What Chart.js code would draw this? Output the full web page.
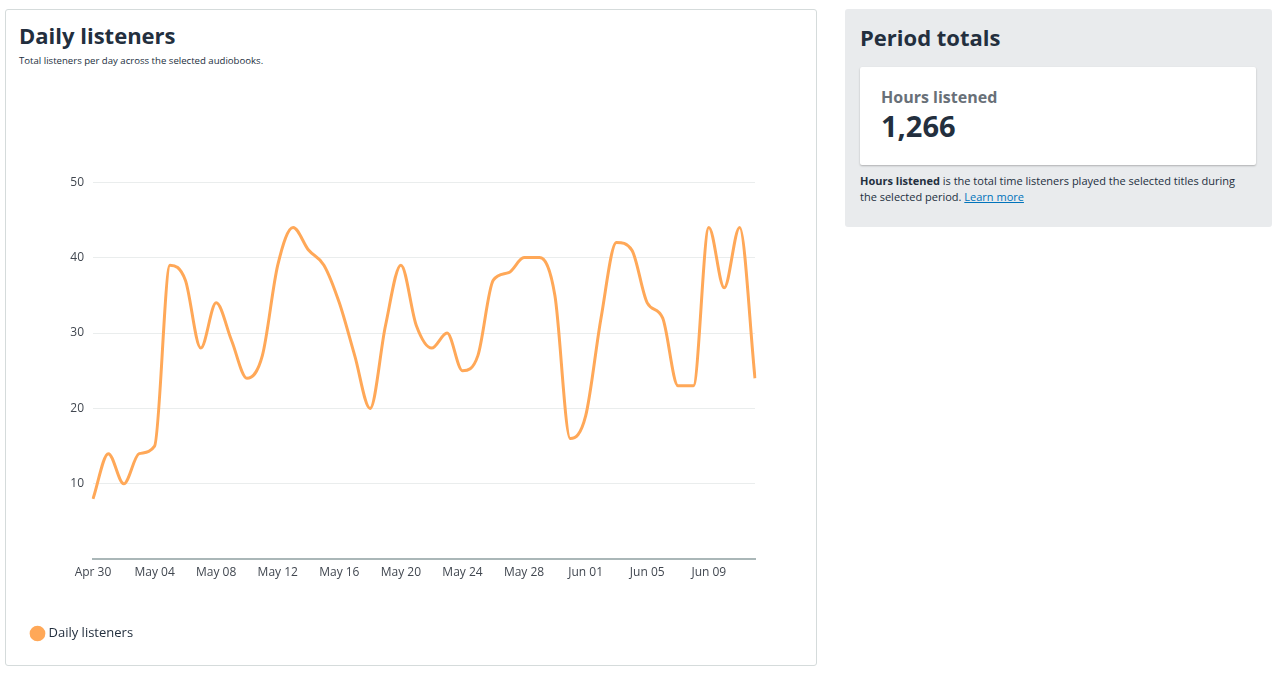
<!DOCTYPE html>
<html>
<head>
<meta charset="utf-8">
<script src="https://cdn.jsdelivr.net/npm/chart.js@4"></script>
<style>
  body { margin: 0; width: 1280px; height: 676px; background: #fff; font-family: "Open Sans", sans-serif; color: #232f3e; position: relative; overflow: hidden; }
  .card { position: absolute; left: 5px; top: 9px; width: 812px; height: 657px; border: 1px solid #d5dbdb; border-radius: 3px; box-sizing: border-box; }
  .card h2 { position: absolute; left: 13px; top: 10px; margin: 0; font-size: 22px; font-weight: 700; color: #232f3e; }
  .card .sub { position: absolute; left: 13px; top: 44px; font-size: 9.6px; color: #232f3e; }
  .chart-box { position: absolute; left: 17px; top: 156px; width: 740px; height: 484px; }
  .side { position: absolute; left: 845px; top: 9px; width: 427px; height: 218px; background: #e9ebed; border-radius: 3px; }
  .side h2 { position: absolute; left: 15px; top: 13px; margin: 0; font-size: 22px; font-weight: 700; color: #232f3e; }
  .stat { position: absolute; left: 15px; top: 58px; width: 396px; height: 98px; background: #fff; border-radius: 2px; box-shadow: 0 1px 2px rgba(0,0,0,0.25); }
  .stat .lbl { position: absolute; left: 21px; top: 19px; font-size: 16px; font-weight: 700; color: #687078; }
  .stat .val { position: absolute; left: 21px; top: 39px; font-size: 29px; font-weight: 700; color: #232f3e; }
  .side p { position: absolute; left: 15px; top: 164px; width: 390px; margin: 0; font-size: 11px; line-height: 16px; color: #232f3e; }
  .side a { color: #0073bb; text-decoration: underline; }
</style>
</head>
<body>
<div class="card">
  <h2>Daily listeners</h2>
  <div class="sub">Total listeners per day across the selected audiobooks.</div>
  <div class="chart-box"><canvas id="listenersChart"></canvas></div>
</div>
<div class="side">
  <h2>Period totals</h2>
  <div class="stat">
    <div class="lbl">Hours listened</div>
    <div class="val">1,266</div>
  </div>
  <p><b>Hours listened</b> is the total time listeners played the selected titles during the selected period. <a href="#">Learn more</a></p>
</div>
<script>
const days = ['Apr 30', 'May 01', 'May 02', 'May 03', 'May 04', 'May 05', 'May 06', 'May 07', 'May 08', 'May 09',
    'May 10', 'May 11', 'May 12', 'May 13', 'May 14', 'May 15', 'May 16', 'May 17', 'May 18', 'May 19',
    'May 20', 'May 21', 'May 22', 'May 23', 'May 24', 'May 25', 'May 26', 'May 27', 'May 28', 'May 29',
    'May 30', 'May 31', 'Jun 01', 'Jun 02', 'Jun 03', 'Jun 04', 'Jun 05', 'Jun 06', 'Jun 07', 'Jun 08',
    'Jun 09', 'Jun 10', 'Jun 11', 'Jun 12'];
const listeners = [8, 14, 10, 14, 15, 39, 37, 28, 34, 29,
    24, 27, 39, 44, 41, 39, 34, 27, 20, 31,
    39, 31, 28, 30, 25, 27, 37, 38, 40, 40,
    35, 16, 19, 32, 42, 41, 34, 32, 23, 23,
    44, 36, 44, 24];
const yTicks = [10, 20, 30, 40, 50];

const tickFont = { family: 'Open Sans', size: 12 };

const ctx = document.getElementById('listenersChart').getContext('2d');
const listenersChart = new Chart(ctx, {
    type: 'line',
    data: {
        labels: days,
        datasets: [{
            label: 'Daily listeners',
            data: listeners,
            borderColor: '#ffa858',
            backgroundColor: '#ffa858',
            borderWidth: 3,
            pointRadius: 0,
            cubicInterpolationMode: 'monotone'
        }]
    },
    options: {
        responsive: true,
        maintainAspectRatio: false,
        animation: false,
        layout: { padding: { right: 8 } },
        plugins: {
            tooltip: { enabled: false },
            legend: {
                position: 'bottom',
                align: 'start',
                labels: {
                    usePointStyle: true,
                    pointStyle: 'circle',
                    boxWidth: 9,
                    boxHeight: 9,
                    padding: 10,
                    color: '#232f3e',
                    font: { family: 'Open Sans', size: 13 }
                }
            }
        },
        scales: {
            x: {
                grid: { display: false, drawTicks: false },
                border: { color: '#aab7b8', width: 2 },
                title: { display: true, text: '', font: tickFont, padding: { top: 8, bottom: 9 } },
                ticks: {
                    autoSkip: false,
                    maxRotation: 0,
                    padding: 6,
                    color: '#414750',
                    font: tickFont,
                    callback: function (val, i) { return i % 4 === 0 ? days[i] : ''; }
                }
            },
            y: {
                min: 0,
                max: 50,
                afterFit: function (scale) { scale.width = 70; },
                grid: { color: '#eaeded', drawTicks: false },
                border: { display: false },
                ticks: {
                    stepSize: 10,
                    padding: 9,
                    color: '#414750',
                    font: tickFont,
                    callback: function (v) { return yTicks.includes(v) ? v : ''; }
                }
            }
        }
    }
});
</script>
</body>
</html>
